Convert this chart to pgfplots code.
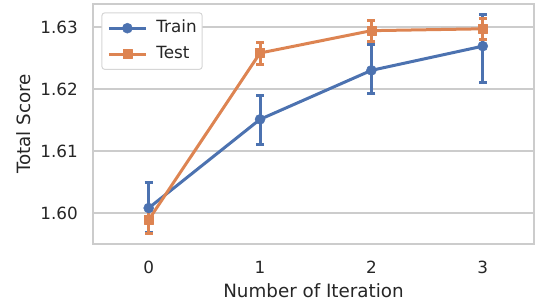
\documentclass[border=0pt]{standalone}
\usepackage{fontspec}
\setmainfont{DejaVu Sans}
\usepackage{pgfplots}
\usepackage{pgfplotstable}
\pgfplotsset{compat=1.18}
\definecolor{sbblue}{HTML}{4C72B0}
\definecolor{sborange}{HTML}{DD8452}
\definecolor{gridc}{HTML}{CCCCCC}
\definecolor{legc}{HTML}{D6D6D6}
\definecolor{txt}{HTML}{262626}
\newcommand{\tfont}{\fontsize{16.8bp}{20bp}\selectfont}
\newcommand{\lfont}{\fontsize{18.3bp}{22bp}\selectfont}

\pgfplotstableread{
x y ep em
0 1.6008 0.0041 0.0040
1 1.6151 0.0038 0.0041
2 1.6230 0.0041 0.0038
3 1.6269 0.0051 0.0058
}\traindata
\pgfplotstableread{
x y ep em
0 1.5989 0.0020 0.0022
1 1.6258 0.0017 0.0018
2 1.6294 0.0016 0.0018
3 1.6297 0.0017 0.0017
}\testdata

\begin{document}
\begin{tikzpicture}
\begin{axis}[
  at={(0,0)}, anchor=south west,
  scale only axis, width=441bp, height=240bp,
  xmin=-0.5, xmax=3.46, ymin=1.595, ymax=1.6337,
  axis line style={draw=gridc, line width=1.9bp},
  ymajorgrids, major grid style={draw=gridc, line width=1.5bp},
  major tick length=0pt, tick style={draw=none},
  xtick={0,1,2,3}, xticklabels={0,1,2,3},
  ytick={1.60,1.61,1.62,1.63}, yticklabels={1.60,1.61,1.62,1.63},
  xticklabel style={anchor=base, yshift=-29bp, inner sep=0pt, font=\tfont, text=txt},
  yticklabel style={anchor=east, xshift=-15bp, inner sep=0pt, font=\tfont, text=txt},
  xlabel={Number of Iteration},
  ylabel={Total Score},
  xlabel style={at={(axis description cs:0.5,0)}, anchor=base, yshift=-53.3bp, inner sep=0pt, font=\lfont, text=txt},
  ylabel style={at={(axis description cs:0,0.5)}, anchor=center, yshift=69bp, inner sep=0pt, font=\lfont, text=txt},
  legend cell align=left,
  legend style={at={(rel axis cs:0.019,0.9654)}, anchor=north west,
    draw=legc, line width=1bp, rounded corners=3bp, fill=white,
    font=\tfont, text=txt, inner xsep=5.5bp, inner ysep=7.5bp,
    nodes={inner sep=0pt, text height=12.3bp, text depth=3.5bp},
    row sep=10bp,
    /tikz/every odd column/.append style={column sep=9bp}},
  limg/.style={legend image code/.code={\draw[mark repeat=2,mark phase=2] plot coordinates {(0bp,0bp) (18.5bp,0bp) (37bp,0bp)};}},
]
\addplot[limg, sbblue, line width=3bp, line join=round, mark=*, mark size=5bp,
  mark options={solid, fill=sbblue, draw=sbblue, line width=0.5bp},
  error bars/.cd, y dir=both, y explicit,
  error bar style={line width=3bp, sbblue},
  error mark options={rotate=90, line width=3bp, mark size=4bp, sbblue}]
  table[x=x, y=y, y error plus=ep, y error minus=em] {\traindata};
\addlegendentry{Train}
\addplot[limg, sborange, line width=3bp, line join=round, mark=square*, mark size=4.5bp,
  mark options={solid, fill=sborange, draw=sborange, line width=0.5bp},
  error bars/.cd, y dir=both, y explicit,
  error bar style={line width=3bp, sborange},
  error mark options={rotate=90, line width=3bp, mark size=4bp, sborange}]
  table[x=x, y=y, y error plus=ep, y error minus=em] {\testdata};
\addlegendentry{Test}
\end{axis}
\pgfresetboundingbox
\path (-93bp,-59bp) rectangle (442bp,244bp);
\end{tikzpicture}
\end{document}
